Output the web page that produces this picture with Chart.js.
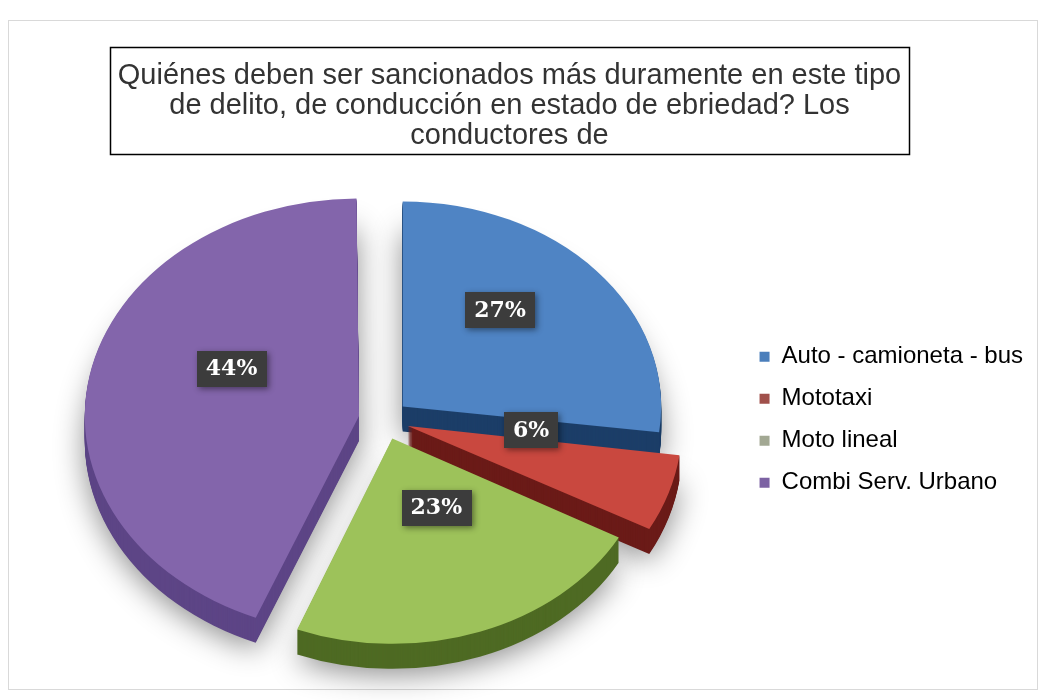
<!DOCTYPE html>
<html>
<head>
<meta charset="utf-8">
<script src="https://cdn.jsdelivr.net/npm/chart.js@4.4.0/dist/chart.umd.min.js"></script>
<style>
  body { margin: 0; background: #fff; }
</style>
</head>
<body>
<canvas id="myChart" width="1048" height="700"></canvas>
<script>
const labels = ['Auto - camioneta - bus', 'Mototaxi', 'Moto lineal', 'Combi Serv. Urbano'];
const values = [27, 6, 23, 44];
const titleLines = [
    'Quiénes deben ser sancionados más duramente en este tipo',
    'de delito, de conducción en estado de ebriedad? Los',
    'conductores de'
];

const topColors = ['#4f84c4', '#c9483f', '#9dc25a', '#8365ab'];
const sideColors = ['#1c3e68', '#6b1b18', '#4e6a23', '#5d4586'];
const legendColors = ['#4a7ebb', '#a0504b', '#a2a893', '#7c62a3'];

const squashX = 1.26;   // the tilted pie is wider than tall
const pieShiftX = 13;
const depth = 25;
const labelLift = 28;
const titlePadTop = 41;
const titleFont = { family: '"Liberation Sans", Arial', size: 29, weight: 'normal', lineHeight: 1.03 };

// grey frame round the whole chart
const frame = {
    id: 'frame',
    beforeDraw(chart) {
        const ctx = chart.ctx;
        ctx.save();
        ctx.fillStyle = '#fff';
        ctx.fillRect(0, 0, chart.width, chart.height);
        ctx.strokeStyle = '#d9d9d9';
        ctx.lineWidth = 1;
        ctx.strokeRect(8.5, 20.5, 1029, 669);
        ctx.restore();
    }
};

// black box round the title
const titleBox = {
    id: 'titleBox',
    afterDraw(chart) {
        const tb = chart.titleBlock;
        const ctx = chart.ctx;
        ctx.save();
        ctx.font = titleFont.size + 'px ' + titleFont.family;
        const w = Math.max(...titleLines.map(t => ctx.measureText(t).width));
        const lh = titleFont.size * titleFont.lineHeight;
        const cx = (tb.left + tb.right) / 2;
        const top = tb.top + titlePadTop - 14;
        ctx.strokeStyle = '#000';
        ctx.lineWidth = 1.5;
        ctx.strokeRect(Math.round(cx - w / 2 - 8) + 0.5, Math.round(top) + 0.5,
            Math.round(w + 16), Math.round(lh * titleLines.length + 17));
        ctx.restore();
    }
};

function drawArcAs(ctx, arc, color) {
    const fake = Object.create(arc);
    fake.options = Object.assign({}, arc.options, { backgroundColor: color, borderColor: color, borderWidth: 0 });
    fake.draw(ctx);
}

// fake 3d: stretch sideways and stack darker copies underneath
const pie3d = {
    id: 'pie3d',
    beforeDatasetsDraw(chart) {
        const ctx = chart.ctx;
        const arcs = chart.getDatasetMeta(0).data;
        const cx = arcs[0].x, cy = arcs[0].y;
        ctx.save();
        ctx.translate(cx + pieShiftX, cy);
        ctx.scale(squashX, 1);
        ctx.translate(-cx, -cy);
        for (let d = depth; d >= 1; d--) {
            ctx.save();
            ctx.translate(0, d);
            if (d === depth) {
                ctx.shadowColor = 'rgba(0,0,0,0.45)';
                ctx.shadowBlur = 30;
                ctx.shadowOffsetY = 6;
            }
            arcs.forEach((arc, i) => drawArcAs(ctx, arc, sideColors[i]));
            ctx.restore();
        }
    },
    afterDatasetsDraw(chart) {
        const ctx = chart.ctx;
        ctx.restore();
        const arcs = chart.getDatasetMeta(0).data;
        ctx.save();
        ctx.font = 'bold 22px "DejaVu Serif"';
        ctx.textAlign = 'center';
        ctx.textBaseline = 'middle';
        arcs.forEach((arc, i) => {
            const a = (arc.startAngle + arc.endAngle) / 2;
            const r = arc.outerRadius * 0.6;
            const x = arc.x + pieShiftX + Math.cos(a) * r * squashX;
            const y = arc.y + Math.sin(a) * r - labelLift;
            const txt = values[i] + '%';
            const w = ctx.measureText(txt).width + 18;
            const h = 36;
            ctx.save();
            ctx.shadowColor = 'rgba(0,0,0,0.45)';
            ctx.shadowBlur = 6;
            ctx.shadowOffsetX = 2;
            ctx.shadowOffsetY = 2;
            ctx.fillStyle = '#3c3c3c';
            ctx.fillRect(Math.round(x - w / 2), Math.round(y - h / 2), Math.round(w), h);
            ctx.restore();
            ctx.fillStyle = '#fff';
            ctx.fillText(txt, x, y + 1);
        });
        ctx.restore();
    }
};

const ctx = document.getElementById('myChart').getContext('2d');
const myChart = new Chart(ctx, {
    type: 'pie',
    data: {
        labels: labels,
        datasets: [{
            data: values,
            backgroundColor: topColors,
            borderWidth: 0,
            offset: 80,
            radius: 205,
            clip: false
        }]
    },
    options: {
        responsive: false,
        animation: false,
        events: [],
        layout: { padding: { left: -14, right: 15, top: 20, bottom: 17 } },
        plugins: {
            title: {
                display: true,
                text: titleLines,
                color: '#333',
                font: titleFont,
                padding: { top: titlePadTop, bottom: 6 }
            },
            legend: {
                position: 'right',
                fullSize: false,
                labels: {
                    boxWidth: 10,
                    boxHeight: 10,
                    padding: 18,
                    color: '#404040',
                    font: { family: '"Liberation Sans", Arial', size: 24 },
                    generateLabels: (chart) => labels.map((l, i) => ({
                        text: l,
                        fillStyle: legendColors[i],
                        strokeStyle: legendColors[i],
                        lineWidth: 0,
                        index: i
                    }))
                }
            },
            tooltip: { enabled: false }
        }
    },
    plugins: [frame, titleBox, pie3d]
});
</script>
</body>
</html>
